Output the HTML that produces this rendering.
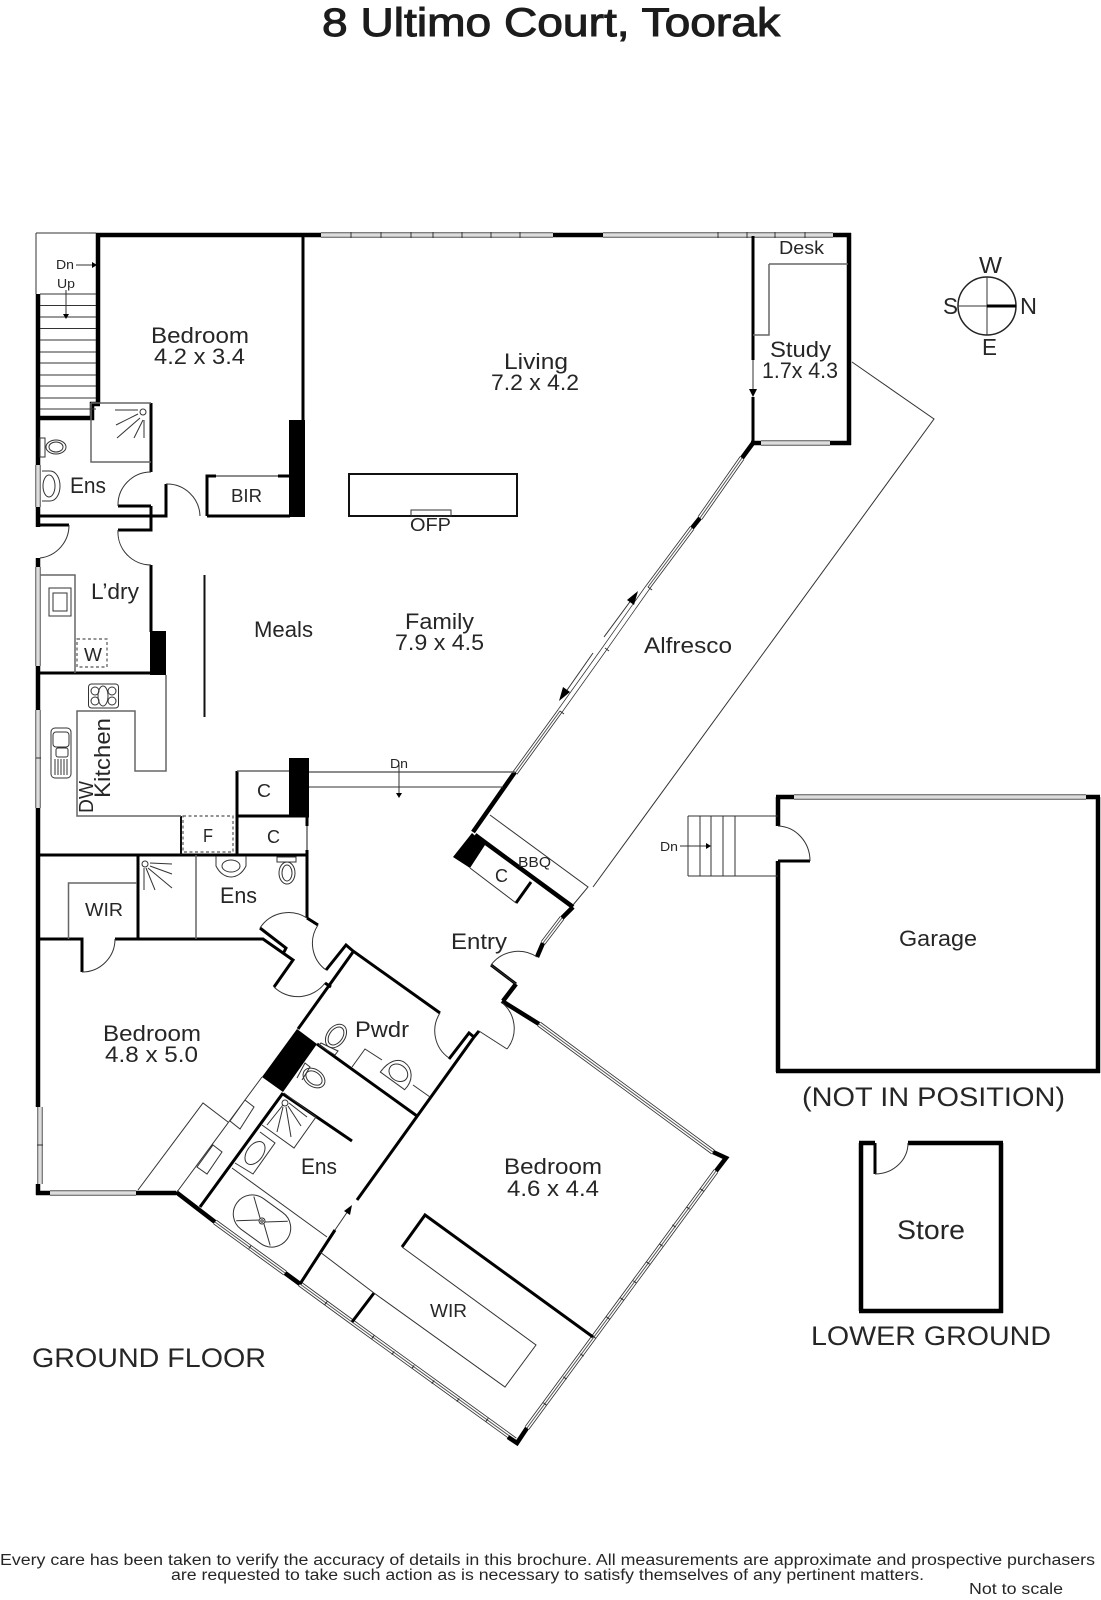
<!DOCTYPE html>
<html><head><meta charset="utf-8"><title>8 Ultimo Court, Toorak</title>
<style>
html,body{margin:0;padding:0;background:#fff}
svg{display:block}
text{font-family:"Liberation Sans",sans-serif;fill:#262626}
.t4{fill:none;stroke:#000;stroke-width:4.5}
.t3{fill:none;stroke:#000;stroke-width:3}
.t2{fill:none;stroke:#111;stroke-width:2}
.g2{fill:none;stroke:#666;stroke-width:1.5}
.t1{fill:none;stroke:#333;stroke-width:1}
.k{fill:#000;stroke:none}
.d{fill:none;stroke:#555;stroke-width:1.2;stroke-dasharray:3 2.5}
</style></head><body>
<svg xmlns="http://www.w3.org/2000/svg" width="1101" height="1600" viewBox="0 0 1101 1600">
<defs>
<path id="wa" d="M321 235H553M603 235H833M38 465V507M38 567V666M38 710V808M40 1107V1184M50 1193H136M761 443H830M794 797H1086"/>
<path id="wd" d="M539 1024L713 1152M716 1171L527 1428M215 1222L285 1273M300 1284L352 1322L515 1440M515 773L560 711M648 587L692 528M700 518L742 458M562 918L543 943"/>
<path id="ws" d="M560 711L605 648L648 587"/>
</defs>
<rect width="1101" height="1600" fill="#fff"/>

<!-- windows -->
<g fill="none">
<use href="#wa" stroke="#555" stroke-width="5.5"/><use href="#wa" stroke="#ddd" stroke-width="3.5"/>
<use href="#wd" stroke="#333" stroke-width="5.5"/><use href="#wd" stroke="#fff" stroke-width="3.8"/><use href="#wd" stroke="#555" stroke-width="1"/>
<use href="#ws" stroke="#333" stroke-width="5.500"/><use href="#ws" stroke="#fff" stroke-width="4"/>
</g>
<path class="t1" d="M351 232V238M381 232V238M411 232V238M433 232V238M462 232V238M491 232V238M520 232V238M718 232V238M747 232V238M775 232V238M805 232V238M36 758H41M37 1145H43M605 648l4 3M560 711l4 3M648 587l4 3"/>
<path d="M700.400 1188.800l3.200 2.400M686.400 1206.800l3.200 2.400M672.400 1224.800l3.200 2.400M659.400 1243.800l3.200 2.400M646.400 1261.800l3.200 2.400M633.400 1280.800l3.200 2.400M620.400 1297.800l3.200 2.400M606.400 1316.800l3.200 2.400M592.400 1335.800l3.200 2.400M580.400 1353.800l3.200 2.400M563.400 1376.800l3.200 2.400M543.400 1402.800l3.200 2.400M251.200 1245.400l-2.400 3.200M327.200 1301.400l-2.400 3.200M374.200 1335.400l-2.400 3.200M394.200 1351.400l-2.400 3.200M414.200 1365.400l-2.400 3.200M434.200 1380.400l-2.400 3.200M459.200 1398.400l-2.400 3.200M488.200 1418.400l-2.400 3.200" fill="none" stroke="#333" stroke-width="1.100"/>

<!-- thick walls -->
<path class="t4" d="M96 235H321M553 235H603M833 235H851M849 233V445M830 443H851M751 443H761M98 233V404M38 294V465M38 507V527M36 418H92V404H100M38 558V567M38 666V710M38 808V1107M38 1184V1195M36 1193H50M136 1193H176M176 1192L215 1222M285 1273L300 1284M778 797V826M778 861V1072M776 1071H1100M1098 797V1073M776 797H794M1086 797H1100M859 1143H875M908 1143H1003M861 1143V1311M859 1311H1003M1001 1143V1313M502 1001L539 1024M713 1152L726 1158L716 1171M527 1428L517 1443L508 1437"/>
<path class="t4" d="M515 772L473 832M475 835L573 907M573 907L562 918M543 943L537 957M516 984L503 1001M742 458L753 443M692 528L700 518"/>
<path class="t3" d="M303 235V420M753 236V360M753 397V443M151 403V472M151 506V530H118M118 506H151M38 516H166V484M38 525H69M207 516H290M207 516V476H216M278 476H290M151 565V632M40 673H166M38 855H307M237 771V855M237 816H309M307 816V826M307 850V918M138 855V939M40 939H82V972M115 939H263L293 960L274 987M260 928L286 948L284 952M307 918L318 925M326 970L346 945L353 951L440 1013M325 983L331 987M353 952L298 1029M449 1059L469 1033L474 1037L357 1200M335 1230L300 1284M317 1044L417 1116M283 1093L200 1207M283 1094L352 1141M352 1322L374 1293M402 1247L425 1215L593 1337M875 1143V1174M778 861H810M479 1031L474 1037M516 903L531 882M491 965L516 984"/>
<path class="t2" d="M181 816V855M349 474H517V516H349ZM204.500 575V717"/>
<path class="g2" d="M216 476H278M40 575H75V673M166 675V771H135V711H77V816H181M237 771H289M307 826V850M68.500 939V883H137M196 855V939M769 264H848M769 264V335H753M91 403H151M91 403V462H151M309 772H515"/>
<path class="t1" d="M36 233H96M36 233V294M40 294H96M40 305.500H96M40 317H96M40 328.500H96M40 340H96M40 352H96M40 363H96M40 375H96M40 386H96M40 398H96M40 409H96M309 787H503M852 362L934 419L593 887M490 815L588 887L573 905M470 868L516 903M262 1077L177 1192M138 1190L203 1103L228 1122M245 1100L254 1107L240 1129L230 1121ZM213 1145L222 1152L207 1174L197 1167ZM232 1168L327 1237M320 1252L374 1293L505 1387L536 1345L402 1247M284 1093L316 1117L294 1148L262 1125M260 1132L275 1143L253 1174L235 1163M352 1067L365 1049L382 1060M413 1085L430 1097M321 1043L338 1051L335 1055L319 1045ZM297 1078L305 1063L310 1067L302 1080M688 816H778M688 876H778M688 816V876M700 816V876M711 816V876M723 816V876M735 816V876"/>

<!-- black blocks -->
<path class="k" d="M289 420H305V517H289ZM150 631H166V675H150ZM289 758H309V816H289ZM472 833L485 845L470 868L453 857ZM297 1029L317 1044L283 1092L262 1077Z"/>

<!-- door arcs -->
<path class="t1" d="M151 472A33 33 0 0 0 118 506M166 484A33 33 0 0 1 200 516M69 525A33 33 0 0 1 40 558M118 530A33 33 0 0 0 151 565M82 972A33 33 0 0 0 115 939M260 928A34 34 0 0 1 307 918M274 987A34 34 0 0 0 325 983M318 925A33 33 0 0 0 326 970M440 1013A33 33 0 0 0 449 1058M501 1002A33 33 0 0 1 507 1049M537 957A34 34 0 0 0 491 965M491 965L516 984M479 1031L507 1049M778 826A33 35 0 0 1 810 861M875 1174A33 31 0 0 0 908 1143"/>

<!-- arrows -->
<path class="t1" d="M76 265H92M66 290V317M399 765V797M680 846H708M753 360V392M593 653L565 693M604 637L632 599M335 1230L350 1208"/>
<path class="k" d="M92 262L97 265L92 268ZM63 314H69L66 319ZM396 793H402L399 798ZM706 843L711 846L706 849ZM749 389H757L753 397ZM559 701L563 687L570 692ZM638 591L634 605L627 600ZM352 1205L350 1215L344 1211Z"/>

<!-- dashed -->
<path class="d" d="M77 639H107V667H77ZM183 816H233V852H183Z"/>

<!-- fixtures -->
<g class="t1">
<rect x="40" y="438" width="5" height="19"/><ellipse cx="56" cy="447" rx="10" ry="7"/><ellipse cx="56" cy="447" rx="7" ry="5"/>
<path d="M42 471H50C56 471 60 478 60 486C60 494 56 501 50 501H42"/><ellipse cx="49" cy="486" rx="6" ry="11"/>
<circle cx="143" cy="412" r="3"/><path d="M138 410H115M138 414L116 425M140 418L117 438M143 420L134 438M144 420V438"/>
<rect x="49" y="588" width="22" height="28"/><rect x="53" y="593" width="14" height="18"/>
<rect x="88.500" y="684" width="30" height="24" rx="3"/><circle cx="95" cy="691" r="4"/><circle cx="95" cy="701" r="4"/><circle cx="112" cy="691" r="4"/><circle cx="112" cy="701" r="4"/><ellipse cx="103" cy="696" rx="5" ry="10"/>
<rect x="51" y="728" width="20" height="50" rx="4"/><rect x="53" y="732" width="16" height="15" rx="3"/><rect x="56" y="748" width="12" height="9" rx="2"/><path d="M55 759V775M58 759V775M61 759V775M64 759V775M67 759V775"/>
<circle cx="145" cy="864" r="3"/><path d="M150 863L172 864M150 866L172 874M148 868L172 888M146 868L155 890M144 868V890"/>
<path d="M216 856V866C220 874 226 877 231 877C236 877 242 874 246 866V856"/><ellipse cx="231" cy="866" rx="9" ry="6"/>
<rect x="277" y="857" width="19" height="5"/><ellipse cx="287" cy="873" rx="8" ry="11"/><ellipse cx="287" cy="873" rx="5" ry="8"/>
<rect x="411" y="510" width="40" height="6"/>
<ellipse cx="336" cy="1036" rx="13" ry="9" transform="rotate(-54 336 1036)"/><ellipse cx="336" cy="1036" rx="10" ry="6.500" transform="rotate(-54 336 1036)"/>
<g transform="translate(398 1075) rotate(36)"><path d="M-16 8H14C16 -5 8 -14 -2 -14C-10 -14 -16 -6 -16 8Z"/><ellipse cx="-1" cy="-2" rx="10" ry="8"/></g>
<ellipse cx="314" cy="1078" rx="12" ry="8.500" transform="rotate(36 314 1078)"/><ellipse cx="314" cy="1078" rx="9" ry="6" transform="rotate(36 314 1078)"/>
<circle cx="285" cy="1103" r="3"/><path d="M283 1105L267 1125M283 1107L277 1132M286 1107L291 1137M288 1106L301 1126M289 1103L307 1117"/>
<ellipse cx="255" cy="1153" rx="13" ry="8" transform="rotate(-54 255 1153)"/>
<g transform="translate(262 1221) rotate(36)"><rect x="-31" y="-19" width="62" height="38" rx="19"/><circle r="3"/><circle r="1.200"/><path d="M-3 -1L-21 -15M3 -1L21 -15M-3 1L-21 15M3 1L21 15"/></g>
</g>

<!-- compass -->
<circle cx="987" cy="306" r="29" fill="none" stroke="#222" stroke-width="1.500"/>
<path class="t1" d="M958 306H987M987 277V335"/><path d="M987 306H1016" stroke="#000" stroke-width="3"/>

<!-- text -->
<text x="322" y="36" font-size="40" textLength="458" lengthAdjust="spacingAndGlyphs" stroke="#1c1c1c" stroke-width="1" style="fill:#1c1c1c">8 Ultimo Court, Toorak</text>
<g font-size="22">
<text x="151" y="343" textLength="98" lengthAdjust="spacingAndGlyphs">Bedroom</text>
<text x="154" y="364" textLength="91" lengthAdjust="spacingAndGlyphs">4.2 x 3.4</text>
<text x="504" y="369" textLength="64" lengthAdjust="spacingAndGlyphs">Living</text>
<text x="491" y="390" textLength="88" lengthAdjust="spacingAndGlyphs">7.2 x 4.2</text>
<text x="770" y="357" textLength="61" lengthAdjust="spacingAndGlyphs">Study</text>
<text x="762" y="378" textLength="76" lengthAdjust="spacingAndGlyphs">1.7x 4.3</text>
<text x="70" y="493" textLength="36" lengthAdjust="spacingAndGlyphs">Ens</text>
<text x="91" y="599" textLength="48" lengthAdjust="spacingAndGlyphs">L’dry</text>
<text x="254" y="637" textLength="59" lengthAdjust="spacingAndGlyphs">Meals</text>
<text x="405" y="629" textLength="69" lengthAdjust="spacingAndGlyphs">Family</text>
<text x="395" y="650" textLength="89" lengthAdjust="spacingAndGlyphs">7.9 x 4.5</text>
<text x="644" y="653" textLength="88" lengthAdjust="spacingAndGlyphs">Alfresco</text>
<text x="220" y="903" textLength="37" lengthAdjust="spacingAndGlyphs">Ens</text>
<text x="103" y="1041" textLength="98" lengthAdjust="spacingAndGlyphs">Bedroom</text>
<text x="105" y="1062" textLength="93" lengthAdjust="spacingAndGlyphs">4.8 x 5.0</text>
<text x="355" y="1037" textLength="54" lengthAdjust="spacingAndGlyphs">Pwdr</text>
<text x="451" y="949" textLength="56" lengthAdjust="spacingAndGlyphs">Entry</text>
<text x="301" y="1174" textLength="36" lengthAdjust="spacingAndGlyphs">Ens</text>
<text x="504" y="1174" textLength="98" lengthAdjust="spacingAndGlyphs">Bedroom</text>
<text x="507" y="1196" textLength="92" lengthAdjust="spacingAndGlyphs">4.6 x 4.4</text>
<text x="899" y="946" textLength="78" lengthAdjust="spacingAndGlyphs">Garage</text>
<text transform="translate(110 798) rotate(-90)" textLength="80" lengthAdjust="spacingAndGlyphs">Kitchen</text>
<text transform="translate(93 813) rotate(-90)" textLength="32" font-size="20" lengthAdjust="spacingAndGlyphs">DW</text>
</g>
<g font-size="18">
<text x="779" y="254" textLength="45" lengthAdjust="spacingAndGlyphs">Desk</text>
<text x="231" y="502" textLength="31" lengthAdjust="spacingAndGlyphs">BIR</text>
<text x="410" y="531" textLength="41" lengthAdjust="spacingAndGlyphs">OFP</text>
<text x="84" y="661" textLength="18" lengthAdjust="spacingAndGlyphs">W</text>
<text x="257" y="797" textLength="14" lengthAdjust="spacingAndGlyphs">C</text>
<text x="267" y="843" textLength="13" lengthAdjust="spacingAndGlyphs">C</text>
<text x="203" y="842" textLength="10" lengthAdjust="spacingAndGlyphs">F</text>
<text x="85" y="916" textLength="38" lengthAdjust="spacingAndGlyphs">WIR</text>
<text x="495" y="882" textLength="13" lengthAdjust="spacingAndGlyphs">C</text>
<text x="430" y="1317" textLength="37" lengthAdjust="spacingAndGlyphs">WIR</text>
</g>
<text x="518" y="867" font-size="15" textLength="33" lengthAdjust="spacingAndGlyphs">BBQ</text>
<g font-size="12.500">
<text x="56" y="269" textLength="18" lengthAdjust="spacingAndGlyphs">Dn</text>
<text x="57" y="288" textLength="18" lengthAdjust="spacingAndGlyphs">Up</text>
<text x="390" y="768" textLength="18" lengthAdjust="spacingAndGlyphs">Dn</text>
<text x="660" y="851" textLength="18" lengthAdjust="spacingAndGlyphs">Dn</text>
</g>
<g font-size="23">
<text x="979" y="273" textLength="23" lengthAdjust="spacingAndGlyphs">W</text>
<text x="943" y="314" textLength="15" lengthAdjust="spacingAndGlyphs">S</text>
<text x="1020" y="314" textLength="17" lengthAdjust="spacingAndGlyphs">N</text>
<text x="982" y="355" textLength="15" lengthAdjust="spacingAndGlyphs">E</text>
</g>
<g font-size="27">
<text x="32" y="1367" textLength="234" lengthAdjust="spacingAndGlyphs">GROUND FLOOR</text>
<text x="811" y="1345" textLength="240" lengthAdjust="spacingAndGlyphs">LOWER GROUND</text>
<text x="802" y="1106" textLength="263" lengthAdjust="spacingAndGlyphs">(NOT IN POSITION)</text>
<text x="897" y="1239" textLength="68" lengthAdjust="spacingAndGlyphs">Store</text>
</g>
<g font-size="15.500">
<text x="0" y="1565" textLength="1095" lengthAdjust="spacingAndGlyphs">Every care has been taken to verify the accuracy of details in this brochure.  All measurements are approximate and prospective purchasers</text>
<text x="171" y="1580" textLength="753" lengthAdjust="spacingAndGlyphs">are requested to take such action as is necessary to satisfy themselves of any pertinent matters.</text>
<text x="969" y="1594" textLength="94" lengthAdjust="spacingAndGlyphs">Not to scale</text>
</g>
</svg>
</body></html>
